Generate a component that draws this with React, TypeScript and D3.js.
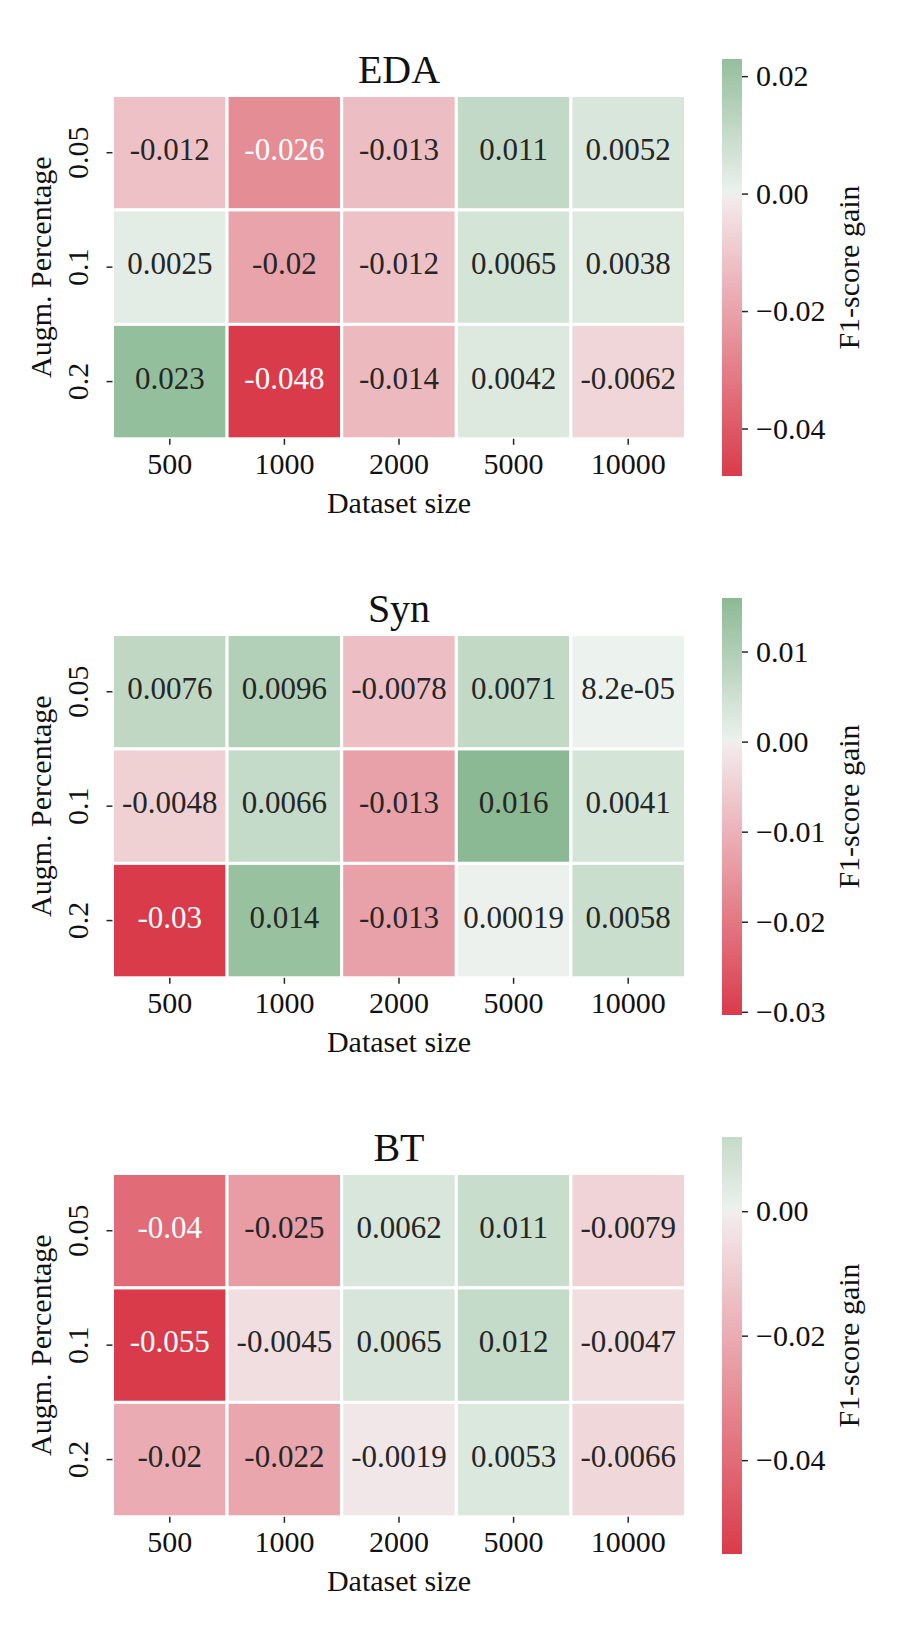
import React, { useEffect, useRef } from "react";
import * as d3 from "d3";

const datasetSizes = ["500", "1000", "2000", "5000", "10000"];
const augmPercentages = ["0.05", "0.1", "0.2"];
const panelTitles = ["EDA", "Syn", "BT"];

const edaValues = [
	[-0.012, -0.026, -0.013, 0.011, 0.0052],
	[0.0025, -0.02, -0.012, 0.0065, 0.0038],
	[0.023, -0.048, -0.014, 0.0042, -0.0062],
];
const synValues = [
	[0.0076, 0.0096, -0.0078, 0.0071, 8.2e-5],
	[-0.0048, 0.0066, -0.013, 0.016, 0.0041],
	[-0.0303, 0.014, -0.013, 0.00019, 0.0058],
];
const btValues = [
	[-0.04, -0.025, 0.0062, 0.011, -0.0079],
	[-0.055, -0.0045, 0.0065, 0.012, -0.0047],
	[-0.02, -0.022, -0.0019, 0.0053, -0.0066],
];

const edaTicks = [0.02, 0, -0.02, -0.04];
const synTicks = [0.01, 0, -0.01, -0.02, -0.03];
const btTicks = [0, -0.02, -0.04];

const panelValues = [edaValues, synValues, btValues];
const panelTicks = [edaTicks, synTicks, btTicks];

const FONT = "'Liberation Serif', 'DejaVu Serif', serif";

// diverging red / green palette centred on zero (seaborn-like)
const redEnd = d3.rgb(218, 59, 74);
const redMid = d3.rgb(243, 237, 238);
const greenMid = d3.rgb(237, 242, 238);
const greenEnd = d3.rgb(52, 135, 67);
const colorFor = (v: number, vrange: number) => {
	const t = Math.max(-1, Math.min(1, v / vrange));
	if (t < 0) return d3.interpolateRgb(redMid, redEnd)(-t);
	return d3.interpolateRgb(greenMid, greenEnd)(t);
};

const luminance = (c: string) => {
	const { r, g, b } = d3.rgb(c);
	const lin = (x: number) => {
		x /= 255;
		return x <= 0.03928 ? x / 12.92 : Math.pow((x + 0.055) / 1.055, 2.4);
	};
	return 0.2126 * lin(r) + 0.7152 * lin(g) + 0.0722 * lin(b);
};

// python-ish ".2g"
const fmtG = (v: number) => {
	if (v !== 0 && Math.abs(v) < 1e-4) {
		const [m, e] = v.toExponential(1).split("e");
		const ex = parseInt(e, 10);
		return `${m}e${ex < 0 ? "-" : "+"}${String(Math.abs(ex)).padStart(2, "0")}`;
	}
	return String(+v.toPrecision(2));
};

const HeatmapFigure = () => {
	const ref = useRef<HTMLDivElement>(null);

	useEffect(() => {
		const width = 900;
		const height = 1650;
		const left = 112.5;
		const right = 685.5;
		const top = 95.5;
		const bottom = 438.8;
		const cbLeft = 722;
		const cbWidth = 20;
		const cbTop = 59;
		const cbBottom = 476;
		const panelStep = 539;

		d3.select(ref.current).selectAll("*").remove();
		const svg = d3
			.select(ref.current)
			.append("svg")
			.attr("width", width)
			.attr("height", height)
			.style("position", "absolute")
			.style("left", 0)
			.style("top", 0)
			.style("font-family", FONT);

		const x = d3.scaleBand().domain(datasetSizes).range([left, right]);

		panelValues.forEach((values, p) => {
			const g = svg.append("g").attr("transform", `translate(0,${p * panelStep})`);
			const y = d3.scaleBand().domain(augmPercentages).range([top, bottom]);
			const flat = values.flat();
			const vmin = d3.min(flat) as number;
			const vmax = d3.max(flat) as number;
			const vrange = Math.max(Math.abs(vmin), Math.abs(vmax));

			const cells = values.flatMap((row, i) =>
				row.map((v, j) => ({ row: augmPercentages[i], col: datasetSizes[j], v })),
			);

			g.selectAll("rect.cell")
				.data(cells)
				.join("rect")
				.attr("class", "cell")
				.attr("x", (d) => x(d.col)!)
				.attr("y", (d) => y(d.row)!)
				.attr("width", x.bandwidth())
				.attr("height", y.bandwidth())
				.attr("fill", (d) => colorFor(d.v, vrange))
				.attr("stroke", "white")
				.attr("stroke-width", 3);

			g.selectAll("text.annot")
				.data(cells)
				.join("text")
				.attr("class", "annot")
				.attr("x", (d) => x(d.col)! + x.bandwidth() / 2)
				.attr("y", (d) => y(d.row)! + y.bandwidth() / 2 + 7)
				.attr("text-anchor", "middle")
				.attr("font-size", 31)
				.attr("fill", (d) => (luminance(colorFor(d.v, vrange)) > 0.408 ? "#262626" : "white"))
				.text((d) => fmtG(d.v));

			// x axis
			datasetSizes.forEach((s) => {
				const cx = x(s)! + x.bandwidth() / 2;
				g.append("line")
					.attr("x1", cx)
					.attr("x2", cx)
					.attr("y1", bottom)
					.attr("y2", bottom + 6)
					.attr("stroke", "#262626")
					.attr("stroke-width", 1.5);
				g.append("text")
					.attr("x", cx)
					.attr("y", 474)
					.attr("text-anchor", "middle")
					.attr("font-size", 30)
					.attr("fill", "#111")
					.text(s);
			});
			g.append("text")
				.attr("x", (left + right) / 2)
				.attr("y", 513)
				.attr("text-anchor", "middle")
				.attr("font-size", 30)
				.attr("fill", "#111")
				.text("Dataset size");

			// y axis
			augmPercentages.forEach((a) => {
				const cy = y(a)! + y.bandwidth() / 2;
				g.append("line")
					.attr("x1", left - 6)
					.attr("x2", left)
					.attr("y1", cy)
					.attr("y2", cy)
					.attr("stroke", "#262626")
					.attr("stroke-width", 1.5);
				g.append("text")
					.attr("transform", `translate(88,${cy}) rotate(-90)`)
					.attr("text-anchor", "middle")
					.attr("font-size", 30)
					.attr("fill", "#111")
					.text(a);
			});
			g.append("text")
				.attr("transform", `translate(51,${(top + bottom) / 2}) rotate(-90)`)
				.attr("text-anchor", "middle")
				.attr("font-size", 30)
				.attr("fill", "#111")
				.text("Augm. Percentage");

			g.append("text")
				.attr("x", (left + right) / 2)
				.attr("y", 83)
				.attr("text-anchor", "middle")
				.attr("font-size", 40)
				.attr("fill", "#111")
				.text(panelTitles[p]);

			// colorbar
			const cb = d3.scaleLinear().domain([vmin, vmax]).range([cbBottom, cbTop]);
			const gradId = `cbgrad${p}`;
			const grad = svg
				.append("defs")
				.append("linearGradient")
				.attr("id", gradId)
				.attr("x1", 0)
				.attr("x2", 0)
				.attr("y1", 1)
				.attr("y2", 0);
			d3.range(0, 1.0001, 0.01).forEach((t) => {
				const v = vmin + t * (vmax - vmin);
				grad.append("stop").attr("offset", t).attr("stop-color", colorFor(v, vrange));
			});
			g.append("rect")
				.attr("x", cbLeft)
				.attr("y", cbTop)
				.attr("width", cbWidth)
				.attr("height", cbBottom - cbTop)
				.attr("fill", `url(#${gradId})`);

			const fmtTick = d3.format(".2f");
			panelTicks[p].forEach((t) => {
				const ty = cb(t);
				g.append("line")
					.attr("x1", cbLeft + cbWidth)
					.attr("x2", cbLeft + cbWidth + 6)
					.attr("y1", ty)
					.attr("y2", ty)
					.attr("stroke", "#262626")
					.attr("stroke-width", 1.5);
				g.append("text")
					.attr("x", 756)
					.attr("y", ty + 9.5)
					.attr("font-size", 30)
					.attr("fill", "#111")
					.text(fmtTick(t));
			});
			g.append("text")
				.attr("transform", `translate(859,${(cbTop + cbBottom) / 2}) rotate(-90)`)
				.attr("text-anchor", "middle")
				.attr("font-size", 30)
				.attr("fill", "#111")
				.text("F1-score gain");
		});
	}, []);

	return <div ref={ref}></div>;
};

export default function App() {
	return <HeatmapFigure />;
}
